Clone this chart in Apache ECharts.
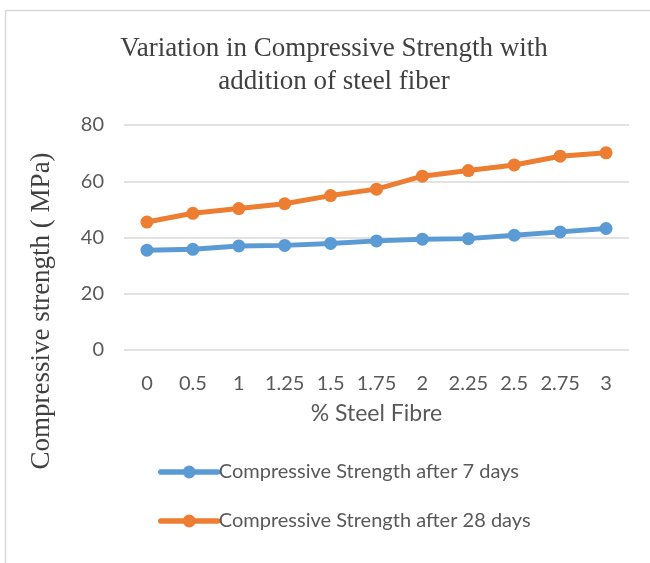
<!DOCTYPE html>
<html><head><meta charset="utf-8">
<script src="https://cdn.jsdelivr.net/npm/echarts@6/dist/echarts.min.js"></script>
<style>html,body{margin:0;padding:0;background:#fff}#c{width:650px;height:563px}</style>
</head><body><div id="c"></div>
<script>
const categories = ['0','0.5','1','1.25','1.5','1.75','2','2.25','2.5','2.75','3'];
const strength7 = [35.5, 35.8, 37.0, 37.2, 37.9, 38.8, 39.4, 39.6, 40.8, 42.0, 43.2];
const strength28 = [45.5, 48.6, 50.3, 52.0, 54.9, 57.2, 61.8, 63.8, 65.8, 68.9, 70.1];
const yTicks = [0, 20, 40, 60, 80];
const seriesNames = ['Compressive Strength after 7 days', 'Compressive Strength after 28 days'];

const chart = echarts.init(document.getElementById('c'), null, {renderer:'canvas'});
const labelFont = 'Lato';
chart.setOption({
  animation: false,
  graphic: [
    {type:'rect', shape:{x:5.5,y:10.5,width:700,height:600}, style:{fill:'none', stroke:'#d9d9d9', lineWidth:1.5}, silent:true},
    {type:'text', x:42, y:311, rotation:Math.PI/2, style:{text:'Compressive strength ( MPa)', font:'27px "Liberation Serif"', fill:'#404040', textAlign:'center', textVerticalAlign:'middle'}}
  ],
  title: {
    text: 'Variation in Compressive Strength with\naddition of steel fiber',
    left: 329, top: 27, textAlign:'center',
    textStyle: {fontFamily:'Liberation Serif', fontSize:27, fontWeight:'normal', color:'#404040', lineHeight:33}
  },
  legend: {
    orient:'vertical', left:153, top:457, itemGap:29, itemWidth:57, itemHeight:16,
    data: seriesNames,
    lineStyle:{width:5.5, cap:'round'},
    textStyle:{fontFamily:labelFont, fontSize:20, color:'#595959', padding:[0,0,0,-4]}
  },
  grid: {left:124, right:21, top:125, bottom:213},
  xAxis: {
    type:'category', data:categories, boundaryGap:true,
    name:'% Steel Fibre', nameLocation:'middle', nameGap:52,
    nameTextStyle:{fontFamily:labelFont, fontSize:23, color:'#595959'},
    axisLine:{show:false}, axisTick:{show:false},
    axisLabel:{fontFamily:labelFont, fontSize:20, color:'#595959', margin:24, interval:0}
  },
  yAxis: {
    type:'value', min:yTicks[0], max:yTicks[yTicks.length-1], interval:20,
    axisLine:{show:false}, axisTick:{show:false},
    axisLabel:{fontFamily:labelFont, fontSize:20, color:'#595959', margin:20},
    splitLine:{lineStyle:{color:'#d9d9d9', width:1.5}}
  },
  series: [
    {name:seriesNames[0], type:'line', data:strength7, symbol:'circle', symbolSize:13,
     lineStyle:{width:5, color:'#5B9BD5'}, itemStyle:{color:'#5B9BD5'}},
    {name:seriesNames[1], type:'line', data:strength28, symbol:'circle', symbolSize:13,
     lineStyle:{width:5, color:'#ED7D31'}, itemStyle:{color:'#ED7D31'}}
  ]
});
</script></body></html>
